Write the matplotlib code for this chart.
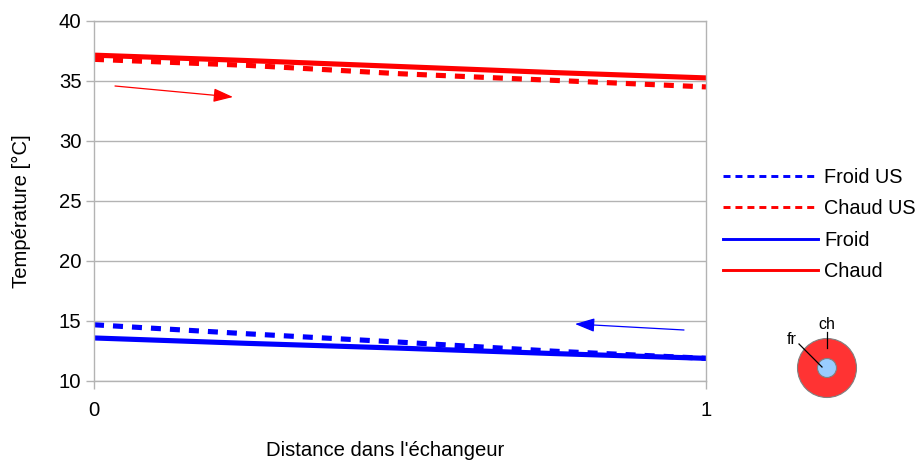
"""Temperature profiles along the exchanger, plain and US cases."""
import matplotlib
matplotlib.use('Agg')
import matplotlib.pyplot as plt
from matplotlib.lines import Line2D
from matplotlib.patches import Circle, FancyArrowPatch

W, H = 918, 461
GREY = '#b3b3b3'

distance = [0, 0.25, 0.5, 0.75, 1]
froid_us = [14.65, 13.9, 13.2, 12.45, 11.85]
chaud_us = [36.8, 36.3, 35.6, 35.05, 34.5]
froid = [13.55, 13.1, 12.7, 12.25, 11.85]
chaud = [37.15, 36.7, 36.2, 35.7, 35.25]
y_ticks = [10, 15, 20, 25, 30, 35, 40]
x_ticks = [0, 1]

plt.rcParams['font.family'] = ['Liberation Sans', 'DejaVu Sans']


def fx(px):
    return px / W


def fy(py):
    return 1 - py / H


fig = plt.figure(figsize=(W / 100, H / 100), dpi=100)
ax = fig.add_axes([fx(94), fy(380.5), (706 - 94) / W, (380.5 - 21) / H])

ax.plot(distance, froid_us, color='#0000ff', lw=3.7, dashes=(1.95, 1.75), dash_capstyle='butt')
ax.plot(distance, chaud_us, color='#ff0000', lw=3.7, dashes=(1.95, 1.75), dash_capstyle='butt')
ax.plot(distance, froid, color='#0000ff', lw=3.7)
ax.plot(distance, chaud, color='#ff0000', lw=3.7)

ax.set_xlim(0, 1)
ax.set_ylim(10, 40)
ax.set_xticks(x_ticks)
ax.set_yticks(y_ticks)
ax.grid(axis='y', color=GREY, lw=1.0)
ax.set_axisbelow(True)
for s in ax.spines.values():
    s.set_color(GREY)
    s.set_linewidth(1.0)
ax.tick_params(axis='both', labelsize=14.6, color=GREY, width=1.0, length=6, pad=3)
ax.tick_params(axis='x', pad=9)

fig.text(fx(385), fy(450), "Distance dans l'échangeur", fontsize=14.6, ha='center', va='center')
fig.text(fx(21), fy(211), 'Température [°C]', fontsize=14.6, rotation=90, ha='center', va='center')

# legend has thinner lines than the plot
handles = [
    Line2D([], [], color='#0000ff', lw=2.1, dashes=(2.4, 1.7), dash_capstyle='butt', label='Froid US'),
    Line2D([], [], color='#ff0000', lw=2.1, dashes=(2.4, 1.7), dash_capstyle='butt', label='Chaud US'),
    Line2D([], [], color='#0000ff', lw=2.1, label='Froid'),
    Line2D([], [], color='#ff0000', lw=2.1, label='Chaud'),
]
fig.legend(handles=handles, loc='center left', bbox_to_anchor=(fx(723), fy(224.5)),
           frameon=False, fontsize=14.3, borderpad=0, borderaxespad=0,
           handlelength=4.8, handletextpad=0.31, labelspacing=0.63)

# flow direction arrows
fig.add_artist(FancyArrowPatch(
    (fx(115), fy(86)), (fx(233), fy(97)), transform=fig.transFigure,
    arrowstyle='-|>,head_length=12,head_width=4.2', mutation_scale=1, color='#ff0000', lw=0.9, shrinkA=0, shrinkB=0))
fig.add_artist(FancyArrowPatch(
    (fx(684), fy(330)), (fx(575), fy(324)), transform=fig.transFigure,
    arrowstyle='-|>,head_length=12,head_width=4.2', mutation_scale=1, color='#0000ff', lw=0.9, shrinkA=0, shrinkB=0))

# cross section of the tube, drawn in pixel units
sec = fig.add_axes([0, 0, 1, 1], facecolor='none')
sec.set_xlim(0, W)
sec.set_ylim(H, 0)
sec.axis('off')
sec.add_patch(Circle((827, 368), 29.5, fc='#ff3333', ec='#808080', lw=0.8))
sec.add_patch(Circle((827, 368), 9.5, fc='#99ccff', ec='#808080', lw=0.8))
sec.plot([827, 827], [332, 348], color='black', lw=0.9)
sec.plot([799, 822], [344, 367], color='black', lw=0.9)
sec.text(827, 324, 'ch', fontsize=11.5, ha='center', va='center')
sec.text(792, 339, 'fr', fontsize=11.5, ha='center', va='center')

fig.savefig('out.png', dpi=100)
